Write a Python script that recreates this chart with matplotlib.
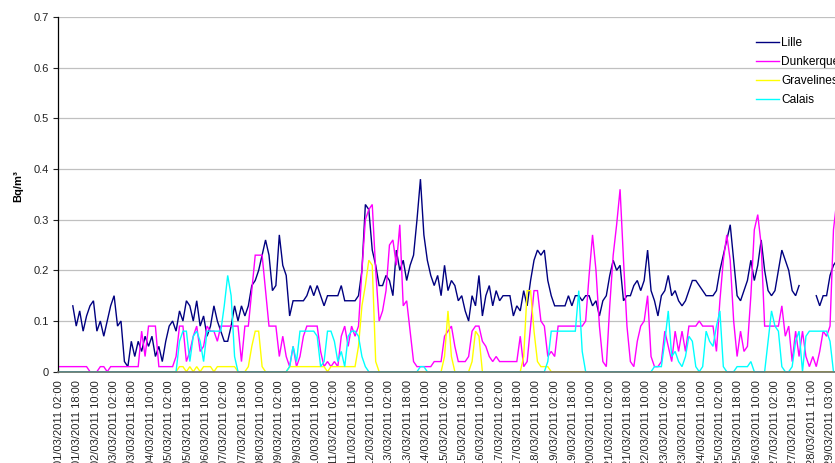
import numpy as np
import matplotlib
matplotlib.use("Agg")
import matplotlib.pyplot as plt

plt.rcParams['font.family'] = ['Liberation Sans', 'DejaVu Sans']

nan = np.nan
step_hours = 3

lille = [
    nan, nan, nan, nan, 0.13, 0.09, 0.12, 0.08, 0.11, 0.13,
    0.14, 0.08, 0.10, 0.07, 0.10, 0.13, 0.15, 0.09, 0.10, 0.02,
    0.01, 0.06, 0.03, 0.06, 0.04, 0.07, 0.05, 0.07, 0.03, 0.05,
    0.02, 0.06, 0.09, 0.10, 0.08, 0.12, 0.10, 0.14, 0.13, 0.10,
    0.14, 0.09, 0.11, 0.07, 0.09, 0.13, 0.10, 0.08, 0.06, 0.06,
    0.09, 0.13, 0.10, 0.13, 0.11, 0.13, 0.17, 0.18, 0.20, 0.23,
    0.26, 0.23, 0.16, 0.17, 0.27, 0.21, 0.19, 0.11, 0.14, 0.14,
    0.14, 0.14, 0.15, 0.17, 0.15, 0.17, 0.15, 0.13, 0.15, 0.15,
    0.15, 0.15, 0.17, 0.14, 0.14, 0.14, 0.14, 0.15, 0.20, 0.33,
    0.32, 0.24, 0.21, 0.17, 0.17, 0.19, 0.18, 0.15, 0.24, 0.20,
    0.22, 0.18, 0.21, 0.23, 0.30, 0.38, 0.27, 0.22, 0.19, 0.17,
    0.19, 0.15, 0.21, 0.16, 0.18, 0.17, 0.14, 0.15, 0.12, 0.10,
    0.15, 0.13, 0.19, 0.11, 0.15, 0.17, 0.13, 0.16, 0.14, 0.15,
    0.15, 0.15, 0.11, 0.13, 0.12, 0.16, 0.13, 0.18, 0.22, 0.24,
    0.23, 0.24, 0.18, 0.15, 0.13, 0.13, 0.13, 0.13, 0.15, 0.13,
    0.15, 0.15, 0.14, 0.15, 0.15, 0.13, 0.14, 0.11, 0.14, 0.15,
    0.19, 0.22, 0.20, 0.21, 0.14, 0.15, 0.15, 0.17, 0.18, 0.16,
    0.18, 0.24, 0.16, 0.14, 0.11, 0.15, 0.16, 0.19, 0.15, 0.16,
    0.14, 0.13, 0.14, 0.16, 0.18, 0.18, 0.17, 0.16, 0.15, 0.15,
    0.15, 0.16, 0.20, 0.23, 0.26, 0.29, 0.22, 0.15, 0.14, 0.16,
    0.18, 0.22, 0.18, 0.21, 0.26, 0.20, 0.16, 0.15, 0.16, 0.20,
    0.24, 0.22, 0.20, 0.16, 0.15, 0.17, nan, nan, nan, nan,
    0.15, 0.13, 0.15, 0.15, 0.19, 0.21, 0.22,
]

dunkerque = [
    0.01, 0.01, 0.01, 0.01, 0.01, 0.01, 0.01, 0.01, 0.01, 0.00,
    0.00, 0.00, 0.01, 0.01, 0.00, 0.01, 0.01, 0.01, 0.01, 0.01,
    0.01, 0.01, 0.01, 0.01, 0.08, 0.03, 0.09, 0.09, 0.09, 0.01,
    0.01, 0.01, 0.01, 0.01, 0.03, 0.09, 0.09, 0.02, 0.04, 0.07,
    0.09, 0.04, 0.05, 0.09, 0.08, 0.08, 0.06, 0.09, 0.09, 0.09,
    0.09, 0.09, 0.09, 0.02, 0.09, 0.09, 0.16, 0.23, 0.23, 0.23,
    0.16, 0.09, 0.09, 0.09, 0.03, 0.07, 0.03, 0.01, 0.05, 0.01,
    0.03, 0.07, 0.09, 0.09, 0.09, 0.09, 0.04, 0.01, 0.02, 0.01,
    0.02, 0.01, 0.07, 0.09, 0.05, 0.09, 0.07, 0.09, 0.20, 0.30,
    0.32, 0.33, 0.20, 0.10, 0.12, 0.16, 0.25, 0.26, 0.21, 0.29,
    0.13, 0.14, 0.08, 0.02, 0.01, 0.01, 0.01, 0.01, 0.01, 0.02,
    0.02, 0.02, 0.07, 0.08, 0.09, 0.05, 0.02, 0.02, 0.02, 0.03,
    0.08, 0.09, 0.09, 0.06, 0.05, 0.03, 0.02, 0.03, 0.02, 0.02,
    0.02, 0.02, 0.02, 0.02, 0.07, 0.01, 0.02, 0.09, 0.16, 0.16,
    0.10, 0.09, 0.03, 0.04, 0.03, 0.09, 0.09, 0.09, 0.09, 0.09,
    0.09, 0.09, 0.09, 0.10, 0.19, 0.27, 0.20, 0.09, 0.02, 0.01,
    0.13, 0.23, 0.29, 0.36, 0.22, 0.09, 0.02, 0.01, 0.06, 0.09,
    0.10, 0.15, 0.03, 0.01, 0.01, 0.02, 0.08, 0.05, 0.02, 0.08,
    0.04, 0.08, 0.04, 0.09, 0.09, 0.09, 0.10, 0.09, 0.09, 0.09,
    0.09, 0.04, 0.14, 0.22, 0.27, 0.22, 0.10, 0.03, 0.08, 0.04,
    0.05, 0.15, 0.28, 0.31, 0.25, 0.09, 0.09, 0.09, 0.09, 0.09,
    0.13, 0.07, 0.09, 0.02, 0.08, 0.03, 0.08, 0.03, 0.01, 0.03,
    0.01, 0.04, 0.08, 0.07, 0.09, 0.28, 0.34,
]

gravelines = [
    0, 0, 0, 0, 0, 0, 0, 0, 0, 0,
    0, 0, 0, 0, 0, 0, 0, 0, 0, 0,
    0, 0, 0, 0, 0, 0, 0, 0, 0, 0,
    0, 0, 0, 0, 0, 0.01, 0.01, 0, 0.01, 0,
    0.01, 0, 0.01, 0.01, 0.01, 0, 0.01, 0.01, 0.01, 0.01,
    0.01, 0.01, 0, 0, 0, 0.01, 0.05, 0.08, 0.08, 0.01,
    0, 0, 0, 0, 0, 0, 0, 0.01, 0.01, 0.01,
    0.01, 0.01, 0.01, 0.01, 0.01, 0.01, 0.01, 0.01, 0, 0.01,
    0.01, 0.01, 0.01, 0.01, 0.01, 0.01, 0.01, 0.05, 0.13, 0.17,
    0.22, 0.21, 0.02, 0, 0, 0, 0, 0, 0, 0,
    0, 0, 0, 0, 0, 0, 0, 0, 0, 0,
    0, 0, 0.03, 0.12, 0.03, 0, 0, 0, 0, 0,
    0.02, 0.08, 0.07, 0, 0, 0, 0, 0, 0, 0,
    0, 0, 0, 0, 0, 0.03, 0.16, 0.16, 0.08, 0.02,
    0.01, 0.01, 0.01, 0, 0, 0, 0, 0, 0, 0,
    0, 0, 0, 0, 0, 0, 0, 0, 0, 0,
    0, 0, 0, 0, 0, 0, 0, 0, 0, 0,
    0, 0, 0, 0, 0, 0, 0, 0, 0, 0,
    0, 0, 0, 0, 0, 0, 0, 0, 0, 0,
    0, 0, 0, 0, 0, 0, 0, 0, 0, 0,
    0, 0, 0, 0, 0, 0, 0, 0, 0, 0,
    0, 0, 0, 0, 0, 0, 0, 0, 0, 0,
    0, 0, 0, 0, 0, 0, 0,
]

calais = [
    0, 0, 0, 0, 0, 0, 0, 0, 0, 0,
    0, 0, 0, 0, 0, 0, 0, 0, 0, 0,
    0, 0, 0, 0, 0, 0, 0, 0, 0, 0,
    0, 0, 0, 0, 0, 0.06, 0.08, 0.08, 0.02, 0.07,
    0.08, 0.06, 0.02, 0.08, 0.08, 0.08, 0.08, 0.08, 0.13, 0.19,
    0.15, 0.03, 0, 0, 0, 0, 0, 0, 0, 0,
    0, 0, 0, 0, 0, 0, 0, 0.01, 0.05, 0.02,
    0.08, 0.08, 0.08, 0.08, 0.08, 0.07, 0.01, 0.02, 0.08, 0.08,
    0.06, 0.02, 0.04, 0.01, 0.07, 0.08, 0.08, 0.07, 0.03, 0.01,
    0, 0, 0, 0, 0, 0, 0, 0, 0, 0,
    0, 0, 0, 0, 0, 0.01, 0.01, 0, 0, 0,
    0, 0, 0, 0, 0, 0, 0, 0, 0, 0,
    0, 0, 0, 0, 0, 0, 0, 0, 0, 0,
    0, 0, 0, 0, 0, 0, 0, 0, 0, 0,
    0, 0, 0.02, 0.08, 0.08, 0.08, 0.08, 0.08, 0.08, 0.08,
    0.08, 0.16, 0.04, 0, 0, 0, 0, 0, 0, 0,
    0, 0, 0, 0, 0, 0, 0, 0, 0, 0,
    0, 0, 0, 0.01, 0.01, 0.01, 0.06, 0.12, 0.03, 0.04,
    0.02, 0.01, 0.03, 0.07, 0.06, 0.01, 0, 0.01, 0.08, 0.06,
    0.05, 0.09, 0.12, 0.01, 0, 0, 0, 0.01, 0.01, 0.01,
    0.01, 0.02, 0, 0, 0, 0, 0.06, 0.12, 0.09, 0.08,
    0.01, 0, 0, 0.01, 0.06, 0.08, 0, 0.07, 0.08, 0.08,
    0.08, 0.08, 0.08, 0.08, 0.06, 0, 0,
]

series_names = ['Lille', 'Dunkerque', 'Gravelines', 'Calais']
series_colors = ['#000080', '#FF00FF', '#FFFF00', '#00FFFF']

tick_labels = [
    '01/03/2011 02:00', '01/03/2011 18:00', '02/03/2011 10:00', '03/03/2011 02:00',
    '03/03/2011 18:00', '04/03/2011 10:00', '05/03/2011 02:00', '05/03/2011 18:00',
    '06/03/2011 10:00', '07/03/2011 02:00', '07/03/2011 18:00', '08/03/2011 10:00',
    '09/03/2011 02:00', '09/03/2011 18:00', '10/03/2011 10:00', '11/03/2011 02:00',
    '11/03/2011 18:00', '12/03/2011 10:00', '13/03/2011 02:00', '13/03/2011 18:00',
    '14/03/2011 10:00', '15/03/2011 02:00', '15/03/2011 18:00', '16/03/2011 10:00',
    '17/03/2011 02:00', '17/03/2011 18:00', '18/03/2011 10:00', '19/03/2011 02:00',
    '19/03/2011 18:00', '20/03/2011 10:00', '21/03/2011 02:00', '21/03/2011 18:00',
    '22/03/2011 10:00', '23/03/2011 02:00', '23/03/2011 18:00', '24/03/2011 10:00',
    '25/03/2011 02:00', '25/03/2011 18:00', '26/03/2011 10:00', '27/03/2011 02:00',
    '27/03/2011 19:00', '28/03/2011 11:00', '29/03/2011 03:00',
]
tick_every_hours = 16
y_ticks = [0, 0.1, 0.2, 0.3, 0.4, 0.5, 0.6, 0.7]
y_tick_labels = ['0', '0.1', '0.2', '0.3', '0.4', '0.5', '0.6', '0.7']

all_series = [lille, dunkerque, gravelines, calais]
n = len(lille)
for s in all_series:
    assert len(s) == n, len(s)
hours = np.arange(n) * step_hours

W, H = 835, 463
fig = plt.figure(figsize=(W / 100, H / 100), dpi=100)
x_left_px = 58
px_per_hour = (830 - 59) / 672.0
xmin, xmax = -0.9, 700
ax_w_px = (xmax - xmin) * px_per_hour
ax = fig.add_axes([x_left_px / W, (H - 371.7) / H, ax_w_px / W, 354.7 / H])

for vals, name, col in zip(all_series, series_names, series_colors):
    ax.plot(hours, vals, color=col, lw=1.0, label=name, clip_on=False,
            solid_joinstyle='miter')

ax.set_xlim(xmin, xmax)
ax.set_ylim(0, 0.7)
ax.set_yticks(y_ticks)
ax.set_yticklabels(y_tick_labels)
ax.set_xticks(np.arange(len(tick_labels)) * tick_every_hours)
ax.set_xticklabels(tick_labels, rotation=90, va='top', ha='center')
ax.tick_params(axis='x', length=0, pad=6, labelsize=8, colors='#222222')
ax.tick_params(axis='y', length=3.5, width=0.8, pad=3, labelsize=8,
               colors='#222222', direction='out')
ax.yaxis.grid(True, color='#c0c0c0', lw=0.9)
ax.set_axisbelow(True)
for sp in ['top', 'right']:
    ax.spines[sp].set_visible(False)
ax.spines['left'].set_color('#000000')
ax.spines['left'].set_linewidth(0.9)
ax.spines['bottom'].set_color('#707070')
ax.spines['bottom'].set_linewidth(1.2)

fig.text(18 / W, 1 - 186 / H, 'Bq/m³', rotation=90, ha='center', va='center',
         fontsize=8, fontweight='bold')

fig.legend(loc='upper left', bbox_to_anchor=(756 / W, 1 - 37.5 / H),
           frameon=False, fontsize=8.6, handlelength=1.95, handletextpad=0.18,
           labelspacing=0.58, borderpad=0, borderaxespad=0)

fig.savefig('out.png', dpi=100)
